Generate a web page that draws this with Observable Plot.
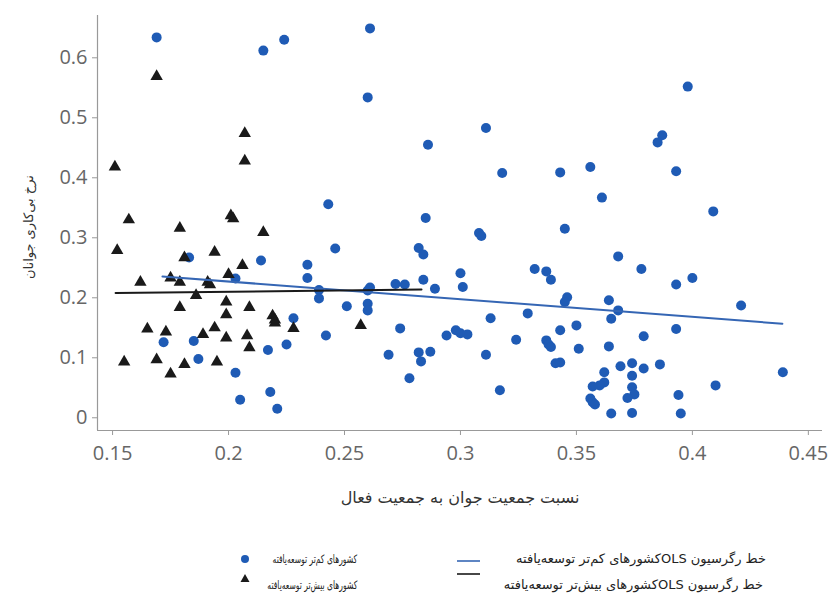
<!DOCTYPE html>
<html>
<head>
<meta charset="utf-8">
<script src="https://cdn.jsdelivr.net/npm/d3@7"></script>
<script src="https://cdn.jsdelivr.net/npm/@observablehq/plot@0.6"></script>
<style>
  body { margin: 0; background: #fff; }
  #wrap { position: relative; width: 830px; height: 600px; background: #fff; }
  #legend { position: relative; width: 830px; height: 70px; font-family: "DejaVu Sans", sans-serif; color: #222; }
  #legend .it { position: absolute; white-space: nowrap; direction: rtl; line-height: 14px; transform-origin: right center; }
  #legend .small { font-size: 11.5px; transform: scaleX(0.66); }
  #legend .big { font-size: 13px; }
  #legend svg { position: absolute; overflow: visible; }
  g[aria-label="x-axis tick"] path, g[aria-label="y-axis tick"] path { stroke: #999; }
  g[aria-label="x-axis tick label"], g[aria-label="y-axis tick label"] { fill: #666; }
</style>
</head>
<body>
<div id="wrap"></div>
<script>
// ---- data ----
const xTicks = [0.15, 0.2, 0.25, 0.3, 0.35, 0.4, 0.45];
const yTicks = [0, 0.1, 0.2, 0.3, 0.4, 0.5, 0.6];
const xDomain = [0.1435, 0.4561];
const yDomain = [-0.0212, 0.6705];

const xLabel = "نسبت جمعیت جوان به جمعیت فعال";
const yLabel = "نرخ بی\u200cکاری جوانان";

// less developed countries (blue dots)
const lessX = [0.169,0.215,0.224,0.243,
  0.246,0.183,0.214,0.234,0.234,0.203,0.239,0.239,0.228,0.242,0.172,0.185,0.225,0.217,0.187,0.203,0.218,0.205,0.221,
  0.261,0.260,0.311,0.286,0.318,0.343,0.285,
  0.308,0.309,0.345,0.282,0.284,0.300,0.301,0.284,0.289,0.272,0.276,0.261,0.260,0.251,0.260,0.260,0.274,0.269,0.278,0.282,0.287,0.283,0.294,0.298,0.300,0.303,0.313,0.311,0.317,0.332,0.337,0.339,0.346,0.345,0.329,0.350,0.343,0.324,0.337,0.338,0.339,0.351,0.341,0.343,
  0.398,0.387,0.385,0.356,0.393,0.361,0.409,
  0.368,0.378,0.393,0.400,0.364,0.368,0.365,0.421,0.393,0.379,0.364,0.369,0.374,0.379,0.386,0.362,0.374,0.362,0.360,0.357,0.374,0.375,0.372,0.356,0.357,0.358,0.365,0.374,0.394,0.395,0.410,0.439];
const lessY = [0.634,0.612,0.630,0.356,
  0.282,0.267,0.262,0.255,0.233,0.232,0.213,0.199,0.166,0.137,0.126,0.128,0.122,0.113,0.098,0.075,0.043,0.030,0.015,
  0.649,0.534,0.483,0.455,0.408,0.409,0.333,
  0.308,0.303,0.315,0.283,0.272,0.241,0.218,0.230,0.215,0.223,0.222,0.217,0.212,0.186,0.190,0.179,0.149,0.105,0.066,0.109,0.110,0.094,0.137,0.146,0.141,0.139,0.166,0.105,0.046,0.248,0.244,0.230,0.201,0.193,0.174,0.154,0.146,0.130,0.129,0.122,0.118,0.115,0.091,0.092,
  0.552,0.471,0.459,0.418,0.411,0.367,0.344,
  0.269,0.248,0.222,0.233,0.196,0.179,0.165,0.187,0.148,0.136,0.119,0.086,0.091,0.082,0.089,0.076,0.070,0.059,0.054,0.052,0.051,0.039,0.033,0.032,0.026,0.022,0.007,0.008,0.038,0.007,0.054,0.076];

// more developed countries (black triangles)
const moreX = [0.151,0.169,0.207,0.207,
  0.157,0.201,0.202,0.179,0.215,0.152,0.194,0.181,0.206,0.200,0.162,0.175,0.179,0.191,0.192,0.186,0.199,0.209,0.179,0.199,0.219,0.220,0.220,0.228,0.165,0.173,0.189,0.194,0.199,0.208,0.209,0.155,0.169,0.181,0.175,0.195,0.257];
const moreY = [0.418,0.569,0.474,0.428,
  0.330,0.337,0.332,0.316,0.309,0.279,0.276,0.267,0.254,0.239,0.226,0.233,0.226,0.226,0.222,0.204,0.193,0.184,0.184,0.172,0.170,0.163,0.158,0.149,0.148,0.143,0.139,0.150,0.133,0.137,0.117,0.093,0.097,0.089,0.073,0.093,0.154];

// OLS regression lines (end points)
const olsLessX = [0.1715, 0.4388];
const olsLessY = [0.2355, 0.1567];
const olsMoreX = [0.1513, 0.2832];
const olsMoreY = [0.2080, 0.2138];

const legendLabels = [
  "کشورهای کم\u200cتر توسعه\u200cیافته",
  "کشورهای بیش\u200cتر توسعه\u200cیافته",
  "خط رگرسیون OLSکشورهای کم\u200cتر توسعه\u200cیافته",
  "خط رگرسیون OLSکشورهای بیش\u200cتر توسعه\u200cیافته"
];

const blue = "#1f5bb5";
const blueLine = "#3566b4";
const black = "#1a1a1a";

const less = lessX.map((x, i) => ({x, y: lessY[i]}));
const more = moreX.map((x, i) => ({x, y: moreY[i]}));
const olsLess = olsLessX.map((x, i) => ({x, y: olsLessY[i]}));
const olsMore = olsMoreX.map((x, i) => ({x, y: olsMoreY[i]}));

const chart = Plot.plot({
  width: 830,
  height: 530,
  marginLeft: 97,
  marginRight: 8,
  marginTop: 15,
  marginBottom: 100,
  style: {fontFamily: "'Open Sans', sans-serif", fontSize: "20px", color: "#666", background: "#fff", overflow: "visible"},
  x: {domain: xDomain},
  y: {domain: yDomain},
  marks: [
    Plot.ruleY([yDomain[0]], {stroke: "#999", strokeWidth: 1.2}),
    Plot.ruleX([xDomain[0]], {stroke: "#999", strokeWidth: 1.2}),
    Plot.axisX({ticks: xTicks, tickFormat: d => String(d), tickSize: 5, tickPadding: 10, label: null, fontSize: 20}),
    Plot.axisY({ticks: yTicks, tickFormat: d => String(d), tickSize: 5, tickPadding: 5, label: null, fontSize: 20}),
    Plot.dot(less, {x: "x", y: "y", r: 5, fill: blue, stroke: "none"}),
    Plot.dot(more, {x: "x", y: "y", r: 4.6, symbol: "triangle", fill: black, stroke: "none"}),
    Plot.line(olsLess, {x: "x", y: "y", stroke: blueLine, strokeWidth: 2}),
    Plot.line(olsMore, {x: "x", y: "y", stroke: black, strokeWidth: 2}),
    Plot.text([xLabel], {frameAnchor: "bottom", dy: 67, fontSize: 16, fill: "#333", fontFamily: "'DejaVu Sans', sans-serif", lineAnchor: "middle"}),
    Plot.text([yLabel], {frameAnchor: "left", textAnchor: "middle", dx: -69, dy: 4, rotate: -90, fontSize: 13, fill: "#333", fontFamily: "'DejaVu Sans', sans-serif", lineAnchor: "middle"})
  ]
});

const wrap = document.getElementById("wrap");
wrap.appendChild(chart);

// ---- legend (HTML, below the SVG) ----
const legend = document.createElement("div");
legend.id = "legend";
wrap.appendChild(legend);
const ns = "http://www.w3.org/2000/svg";
function swatch(left, top, w, h, draw) {
  const s = document.createElementNS(ns, "svg");
  s.setAttribute("width", w); s.setAttribute("height", h);
  s.style.left = left + "px"; s.style.top = top + "px";
  s.innerHTML = draw;
  legend.appendChild(s);
}
function label(text, right, centerY, cls) {
  const d = document.createElement("div");
  d.className = "it " + cls;
  d.textContent = text;
  d.style.right = (830 - right) + "px";
  d.style.top = (centerY - 7) + "px";
  legend.appendChild(d);
}
swatch(240, 24, 10, 10, `<circle cx="5" cy="5" r="4" fill="${blue}"/>`);
swatch(240, 43, 10, 10, `<path d="M5,1 L9.5,9 L0.5,9 Z" fill="${black}"/>`);
swatch(457, 29, 24, 4, `<line x1="0" y1="2" x2="23" y2="2" stroke="${blueLine}" stroke-width="1.6"/>`);
swatch(457, 42, 24, 4, `<line x1="0" y1="2" x2="23" y2="2" stroke="${black}" stroke-width="1.6"/>`);
label(legendLabels[0], 357, 29, "small");
label(legendLabels[1], 357, 55, "small");
label(legendLabels[2], 766, 29, "big");
label(legendLabels[3], 763, 55, "big");
</script>
</body>
</html>
